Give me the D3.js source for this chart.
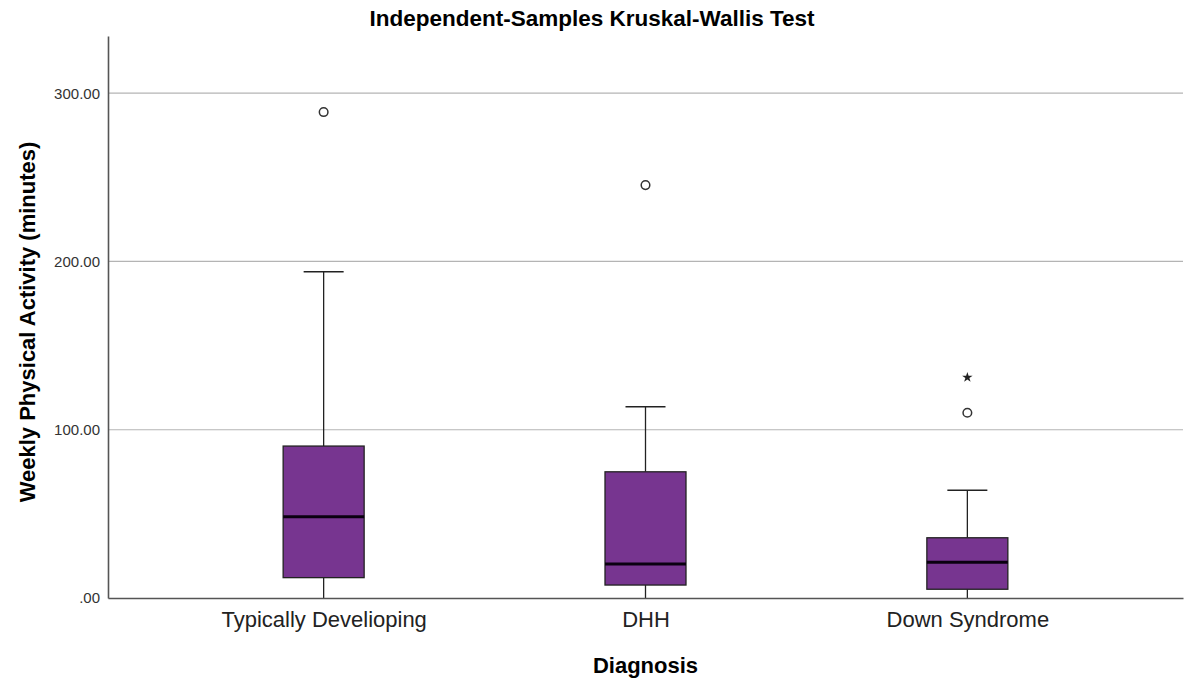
<!DOCTYPE html>
<html>
<head>
<meta charset="utf-8">
<script src="https://cdn.jsdelivr.net/npm/d3@7"></script>
<style>
  body { margin: 0; background: #fff; }
  text { font-family: "Liberation Sans", Arial, sans-serif; }
</style>
</head>
<body>
<svg width="1186" height="682"></svg>
<script>
// data
var categories = ["Typically Develioping", "DHH", "Down Syndrome"];
var q1 = [12.1, 7.7, 5.2];
var medians = [48.3, 20.2, 21.2];
var q3 = [90.3, 75.0, 35.8];
var whiskerLow = [0, 0, 0];
var whiskerHigh = [193.9, 113.7, 64.0];
var outliers = [[288.8], [245.4], [110.1]];
var extremes = [[], [], [131.1]];
var yTicks = [0, 100, 200, 300];

var svg = d3.select("svg"),
  margin = {top: 36, right: 3, bottom: 84, left: 108},
  width = +svg.attr("width") - margin.left - margin.right,
  height = +svg.attr("height") - margin.top - margin.bottom;

var x = d3.scalePoint().domain(categories).range([0, width]).padding(0.67),
  y = d3.scaleLinear().domain([0, 334]).range([height, 0]);

var boxW = 81, capW = 40;

var g = svg.append("g")
  .attr("transform", "translate(" + margin.left + "," + margin.top + ")");

// gridlines
g.append("g")
  .selectAll("line")
  .data(yTicks.filter(function(d) { return d > 0; }))
  .enter().append("line")
  .attr("x1", 0).attr("x2", width)
  .attr("y1", function(d) { return y(d); })
  .attr("y2", function(d) { return y(d); })
  .attr("stroke", "#b4b4b4")
  .attr("stroke-width", 1.2);

var boxes = categories.map(function(c, i) {
  return {cat: c, q1: q1[i], med: medians[i], q3: q3[i], lo: whiskerLow[i], hi: whiskerHigh[i],
    out: outliers[i], ext: extremes[i]};
});

var bg = g.selectAll(".box")
  .data(boxes)
  .enter().append("g")
  .attr("class", "box")
  .attr("transform", function(d) { return "translate(" + x(d.cat) + ",0)"; });

// whiskers
bg.append("line")
  .attr("x1", 0).attr("x2", 0)
  .attr("y1", function(d) { return y(d.q3); })
  .attr("y2", function(d) { return y(d.hi); })
  .attr("stroke", "#222").attr("stroke-width", 1.3);
bg.append("line")
  .attr("x1", 0).attr("x2", 0)
  .attr("y1", function(d) { return y(d.q1); })
  .attr("y2", function(d) { return y(d.lo); })
  .attr("stroke", "#222").attr("stroke-width", 1.3);
bg.append("line")
  .attr("x1", -capW / 2).attr("x2", capW / 2)
  .attr("y1", function(d) { return y(d.hi); })
  .attr("y2", function(d) { return y(d.hi); })
  .attr("stroke", "#222").attr("stroke-width", 1.5);

bg.append("rect")
  .attr("x", -boxW / 2)
  .attr("width", boxW)
  .attr("y", function(d) { return y(d.q3); })
  .attr("height", function(d) { return y(d.q1) - y(d.q3); })
  .attr("fill", "#773590")
  .attr("stroke", "#222")
  .attr("stroke-width", 1.3);

bg.append("line")
  .attr("x1", -boxW / 2).attr("x2", boxW / 2)
  .attr("y1", function(d) { return y(d.med); })
  .attr("y2", function(d) { return y(d.med); })
  .attr("stroke", "#0a0010").attr("stroke-width", 3);

bg.selectAll(".out")
  .data(function(d) { return d.out; })
  .enter().append("circle")
  .attr("class", "out")
  .attr("cx", 0)
  .attr("cy", function(d) { return y(d); })
  .attr("r", 4.3)
  .attr("fill", "#fff")
  .attr("stroke", "#333")
  .attr("stroke-width", 1.5);

// extreme values drawn as stars
bg.selectAll(".ext")
  .data(function(d) { return d.ext; })
  .enter().append("path")
  .attr("class", "ext")
  .attr("transform", function(d) { return "translate(0," + y(d) + ")"; })
  .attr("d", d3.symbol().type(d3.symbolStar).size(34))
  .attr("fill", "#222");

// axes
var yAxis = g.append("g")
  .call(d3.axisLeft(y).tickValues(yTicks).tickSize(0).tickPadding(8)
    .tickFormat(function(d) { return d === 0 ? ".00" : d.toFixed(2); }));
yAxis.select(".domain").attr("stroke", "#555").attr("stroke-width", 1.6);
yAxis.selectAll("text").attr("font-size", "15px").attr("fill", "#333")
  .style("font-family", "Liberation Sans, Arial, sans-serif");

var xAxis = g.append("g")
  .attr("transform", "translate(0," + height + ")")
  .call(d3.axisBottom(x).tickSize(0).tickPadding(13));
xAxis.select(".domain").attr("stroke", "#555").attr("stroke-width", 1.6);
xAxis.selectAll("text").attr("font-size", "22px").attr("fill", "#222")
  .style("font-family", "Liberation Sans, Arial, sans-serif");

// titles
svg.append("text")
  .attr("x", 592).attr("y", 26)
  .attr("text-anchor", "middle")
  .attr("font-size", "22.5px").attr("font-weight", "bold")
  .text("Independent-Samples Kruskal-Wallis Test");

svg.append("text")
  .attr("transform", "translate(35,322) rotate(-90)")
  .attr("text-anchor", "middle")
  .attr("font-size", "22px").attr("font-weight", "bold")
  .text("Weekly Physical Activity (minutes)");

svg.append("text")
  .attr("x", margin.left + x("DHH")).attr("y", 673)
  .attr("text-anchor", "middle")
  .attr("font-size", "22px").attr("font-weight", "bold")
  .text("Diagnosis");
</script>
</body>
</html>
